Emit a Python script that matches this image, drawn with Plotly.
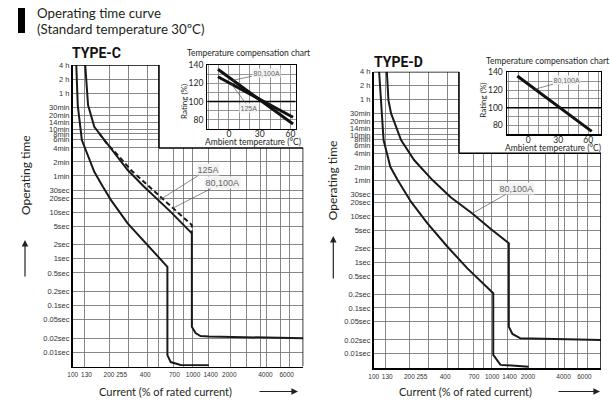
import math
import plotly.graph_objects as go

# ---------------- data ----------------
time_tick_vals = [14400, 7200, 3600, 1800, 1200, 840, 600, 480, 360, 240, 120, 60, 30, 20,
                  10, 5, 2, 1, 0.5, 0.2, 0.1, 0.05, 0.02, 0.01]
time_tick_text = ["4 h", "2 h", "1 h", "30min", "20min", "14min", "10min", "8min", "6min", "4min",
                  "2min", "1min", "30sec", "20sec", "10sec", "5sec", "2sec", "1sec", "0.5sec",
                  "0.2sec", "0.1sec", "0.05sec", "0.02sec", "0.01sec"]
current_tick_vals = [100, 130, 200, 255, 400, 700, 1000, 1400, 2000, 4000, 6000]
current_tick_text = ["100", "130", "200", "255", "400", "700", "1000", "1400", "2000", "4000", "6000"]
current_grid_vals = [125, 201, 291, 418, 521, 694, 840, 985, 1351, 2042, 2805, 3614, 4105, 5285, 6395]

# TYPE-C operating curves: current (% of rated) vs operating time (s)
c_lower_current = [107, 110, 119, 134, 151, 178, 208, 286, 392, 523, 612, 612, 652, 788, 1351]
c_lower_time = [14400, 1995, 354, 155, 73.8, 35.2, 18.2, 5.77, 2.35, 1.02, 0.676, 0.0086, 0.0061, 0.0053, 0.0052]
c_125a_current = [127, 134, 151, 183, 222, 286, 392, 506, 652, 977, 977, 1049, 1153, 1351, 2000, 4000, 8250]
c_125a_time = [14400, 1995, 682, 354, 183, 80.4, 35.2, 18.9, 10.2, 3.53, 0.0348, 0.0255, 0.022, 0.0215, 0.021, 0.0205, 0.0198]
c_80_100a_current = [166, 189, 244, 304, 418, 539, 673, 977, 977]
c_80_100a_time = [492, 313, 155, 80.4, 38.3, 21.1, 12.1, 5.3, 3.53]

# TYPE-D operating curves
d_lower_current = [111, 115, 121, 138, 159, 206, 284, 419, 617, 1020, 1020, 1174, 2030]
d_lower_time = [14400, 3467, 464, 121, 62, 20.9, 7.05, 2.17, 0.73, 0.209, 0.0094, 0.0057, 0.0052]
d_80_100a_current = [129, 133, 140, 170, 219, 313, 446, 679, 967, 1380, 1380, 1481, 1729, 8280]
d_80_100a_time = [14400, 3467, 1778, 464, 170, 62, 26.1, 11.6, 5.37, 2.58, 0.039, 0.027, 0.0217, 0.020]

# Temperature compensation charts: ambient temperature (°C) vs rating (%)
temp_tick_vals = [0, 30, 60]
temp_grid_vals = [-20, -10, 10, 20, 40, 50, 70]
rating_tick_vals = [80, 100, 120, 140]
rating_grid_vals = [70, 90, 110, 130]
c_temp_80_100a = [-10.7, 62.4]
c_rating_80_100a = [135.3, 75.4]
c_temp_125a = [-10.7, 62.4]
c_rating_125a = [127.2, 82.8]
d_temp_80_100a = [-11.0, 63.4]
d_rating_80_100a = [135.8, 73.3]

# ---------------- styling ----------------
W, H = 610, 400
FT = "Lato, 'Open Sans', sans-serif"
FA = "'Liberation Sans', Arial, sans-serif"
GRID = "#7a7a7a"
INK = "#231f20"


def px(xp):
    return xp / W


def py(yp):
    return 1 - yp / H


C_X = (99.5, 8250)
C_Y = (0.0049, 14450)
D_X = (99.5, 8280)
D_Y = (0.0048, 14450)
C_TX = (-21, 65)
D_TX = (-21.6, 72.7)
R_Y = (70, 140)
STEP_X = {"C": 521, "D": 524}
STEP_T = 240

fig = go.Figure()

line_main = dict(color="#1a1a1a", width=2)
fig.add_trace(go.Scatter(x=c_lower_current, y=c_lower_time, mode="lines", line=line_main,
                         xaxis="x", yaxis="y", showlegend=False))
fig.add_trace(go.Scatter(x=c_125a_current, y=c_125a_time, mode="lines", line=line_main,
                         xaxis="x", yaxis="y", showlegend=False))
fig.add_trace(go.Scatter(x=c_80_100a_current, y=c_80_100a_time, mode="lines",
                         line=dict(color="#1a1a1a", width=2, dash="5px,3px"),
                         xaxis="x", yaxis="y", showlegend=False))

line_in = dict(color="#111", width=3)
fig.add_trace(go.Scatter(x=c_temp_80_100a, y=c_rating_80_100a, mode="lines", line=line_in,
                         xaxis="x2", yaxis="y2", showlegend=False))
fig.add_trace(go.Scatter(x=c_temp_125a, y=c_rating_125a, mode="lines", line=line_in,
                         xaxis="x2", yaxis="y2", showlegend=False))

fig.add_trace(go.Scatter(x=d_lower_current, y=d_lower_time, mode="lines", line=line_main,
                         xaxis="x3", yaxis="y3", showlegend=False))
fig.add_trace(go.Scatter(x=d_80_100a_current, y=d_80_100a_time, mode="lines", line=line_main,
                         xaxis="x3", yaxis="y3", showlegend=False))

fig.add_trace(go.Scatter(x=d_temp_80_100a, y=d_rating_80_100a, mode="lines", line=line_in,
                         xaxis="x4", yaxis="y4", showlegend=False))


def main_x(domain, rng, anchor):
    return dict(type="log", domain=domain, anchor=anchor, automargin=False,
                range=[math.log10(rng[0]), math.log10(rng[1])],
                tickmode="array", tickvals=current_tick_vals, ticktext=current_tick_text,
                tickangle=0, showgrid=False, ticks="", ticklabelstandoff=1,
                tickfont=dict(family=FA, size=6.5, color="#333"),
                minor=dict(tickmode="array", tickvals=current_grid_vals, showgrid=True,
                           gridcolor=GRID, gridwidth=0.9, ticks=""),
                showline=True, linecolor="black", linewidth=1.5, zeroline=False, fixedrange=True)


def main_y(domain, rng, anchor):
    return dict(type="log", domain=domain, anchor=anchor, automargin=False,
                range=[math.log10(rng[0]), math.log10(rng[1])],
                tickmode="array", tickvals=time_tick_vals, ticktext=time_tick_text,
                showgrid=True, gridcolor=GRID, gridwidth=0.9, ticks="",
                tickfont=dict(family=FA, size=7.5, color="#333"),
                showline=True, linecolor="black", linewidth=1.5, zeroline=False, fixedrange=True)


def inset_x(domain, rng, anchor):
    return dict(domain=domain, anchor=anchor, range=list(rng), automargin=False,
                tickmode="array", tickvals=temp_tick_vals, showgrid=True, gridcolor=GRID,
                gridwidth=0.8, ticks="", ticklabelstandoff=-3, tickangle=0,
                tickfont=dict(family=FT, size=8.5, color=INK),
                minor=dict(tickmode="array", tickvals=temp_grid_vals, showgrid=True,
                           gridcolor=GRID, gridwidth=0.8, ticks=""),
                showline=True, mirror=True, linecolor="black", linewidth=1.2,
                zeroline=False, fixedrange=True)


def inset_y(domain, rng, anchor):
    return dict(domain=domain, anchor=anchor, range=list(rng), automargin=False,
                tickmode="array", tickvals=rating_tick_vals, showgrid=True, gridcolor=GRID,
                gridwidth=0.8, ticks="", ticklabelstandoff=1,
                tickfont=dict(family=FT, size=8.5, color=INK),
                minor=dict(tickmode="array", tickvals=rating_grid_vals, showgrid=True,
                           gridcolor=GRID, gridwidth=0.8, ticks=""),
                showline=True, mirror=True, linecolor="black", linewidth=1.2,
                zeroline=False, fixedrange=True)


fig.update_layout(
    width=W, height=H, autosize=False,
    margin=dict(l=0, r=0, t=0, b=0, autoexpand=False),
    paper_bgcolor="white", plot_bgcolor="white",
    xaxis=main_x([px(72.5), px(303.3)], C_X, "y"),
    yaxis=main_y([py(366.5), py(65)], C_Y, "x"),
    xaxis2=inset_x([px(207.3), px(295.7)], C_TX, "y2"),
    yaxis2=inset_y([py(129), py(65)], R_Y, "x2"),
    xaxis3=main_x([px(373.5), px(601)], D_X, "y3"),
    yaxis3=main_y([py(368.3), py(71.7)], D_Y, "x3"),
    xaxis4=inset_x([px(506.7), px(601)], D_TX, "y4"),
    yaxis4=inset_y([py(134.3), py(72.3)], R_Y, "x4"),
)

shapes = []
# black title bar
shapes.append(dict(type="rect", xref="paper", yref="paper", x0=px(18), x1=px(25),
                   y0=py(33), y1=py(8), fillcolor="black", line=dict(width=0)))
for key, xa, ya, xr, yr in (("C", "x", "y", C_X, C_Y), ("D", "x3", "y3", D_X, D_Y)):
    sx = STEP_X[key]
    # blank out upper-right part of the main grid (space of the inset)
    shapes.append(dict(type="rect", xref=xa, yref=ya, x0=sx, x1=xr[1], y0=STEP_T, y1=yr[1],
                       fillcolor="white", line=dict(width=0), layer="between"))
    bl = dict(color="black", width=1.5)
    shapes.append(dict(type="line", xref=xa, yref=ya, x0=xr[0], x1=sx, y0=yr[1], y1=yr[1], line=bl))
    shapes.append(dict(type="line", xref=xa, yref=ya, x0=sx, x1=sx, y0=STEP_T, y1=yr[1], line=bl))
    shapes.append(dict(type="line", xref=xa, yref=ya, x0=sx, x1=xr[1], y0=STEP_T, y1=STEP_T, line=bl))
    shapes.append(dict(type="line", xref=xa, yref=ya, x0=xr[1], x1=xr[1], y0=yr[0], y1=STEP_T, line=bl))
# 100 % reference lines in the insets
for xa, ya, xr in (("x2", "y2", C_TX), ("x4", "y4", D_TX)):
    shapes.append(dict(type="line", xref=xa, yref=ya, x0=xr[0], x1=xr[1], y0=100, y1=100,
                       line=dict(color="black", width=1.6), layer="between"))
fig.update_layout(shapes=shapes)

ann = []


def text(x, y, s, size, family=FT, color=INK, xanchor="center", angle=0):
    ann.append(dict(x=x, y=y, xref="paper", yref="paper", text=s, showarrow=False,
                    xanchor=xanchor, yanchor="middle", textangle=angle,
                    font=dict(family=family, size=size, color=color)))


text(px(35), py(13), "Operating time curve", 13.3, xanchor="left")
text(px(35), py(29), "(Standard temperature 30ºC)", 13.3, xanchor="left")
text(px(96), py(53), "<b>TYPE-C</b>", 14, family="Roboto, sans-serif", color="#111")
text(px(398.8), py(61.7), "<b>TYPE-D</b>", 14, family="Roboto, sans-serif", color="#111")
text(px(25), py(175), "Operating time", 12, angle=-90)
text(px(333.3), py(180), "Operating time", 12, angle=-90)
text(px(165), py(391.7), "Current (% of rated current)", 11)
text(px(465), py(391.7), "Current (% of rated current)", 11)
text(px(248), py(53.3), "Temperature compensation chart", 8.5)
text(px(547.5), py(60.7), "Temperature compensation chart", 8.5)
text(px(183.3), py(101.7), "Rating (%)", 8, angle=-90)
text(px(482.7), py(100), "Rating (%)", 8, angle=-90)
text(px(253), py(141.7), "Ambient temperature (°C)", 8.5)
text(px(553), py(148.3), "Ambient temperature (°C)", 8.5)

# axis direction arrows
for x, y, axp, ayp in ((25, 240, 0, 38), (333.3, 236, 0, 44), (298, 391.5, -40, 0), (600, 391.5, -43, 0)):
    ann.append(dict(x=px(x), y=py(y), xref="paper", yref="paper", text="", showarrow=True,
                    ax=axp, ay=ayp, arrowhead=2, arrowsize=1.1, arrowwidth=1.2, arrowcolor="#222"))


def label(xa, ya, x, y, s, axp, ayp, size):
    ann.append(dict(x=x, y=y, xref=xa, yref=ya, text=s, showarrow=True, ax=axp, ay=ayp,
                    arrowhead=0, arrowwidth=0.7, arrowcolor="#555", bgcolor="#f3f3f3",
                    borderpad=0.5, font=dict(family=FA, size=size, color="#666")))


label("x", "y", math.log10(521), math.log10(18), "125A", 49, -31, 9)
label("x", "y", math.log10(673), math.log10(12.1), "80,100A", 50, -25.6, 9)
label("x3", "y3", math.log10(679), math.log10(11.6), "80,100A", 44, -25, 9)
label("x2", "y2", 4, 123.3, "80,100A", 33, -7, 7)
label("x2", "y2", 2.3, 119.3, "125A", 18, 24, 7)
label("x4", "y4", 6.7, 120.9, "80,100A", 32, -9, 7)

fig.update_layout(annotations=ann)
# the page's default 8px body margin would shift the figure; remove it
fig.write_html("out.html", config={"displayModeBar": False, "staticPlot": True},
               post_script="document.body.style.margin='0px';")
